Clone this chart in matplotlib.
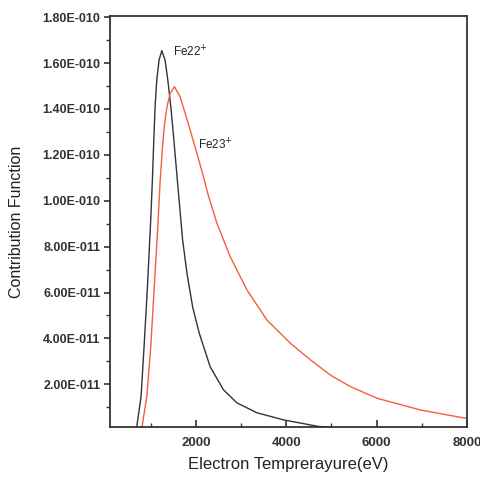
import matplotlib
matplotlib.use("Agg")
import matplotlib.pyplot as plt
from matplotlib.ticker import MultipleLocator, FuncFormatter

plt.rcParams['font.family'] = ['Liberation Sans', 'DejaVu Sans']

# Fe22+ contribution function (temperature eV, value)
fe22_T = [692, 787, 854, 927, 1002, 1038, 1069, 1098, 1135, 1186, 1246, 1319, 1379,
          1446, 1514, 1590, 1707, 1803, 1929, 2073, 2317, 2612, 2909, 3352, 3942,
          4534, 4700, 5200, 6000, 8000]
fe22_C = [0.15e-11, 1.46e-11, 3.64e-11, 6.2e-11, 9.2e-11, 10.9e-11, 12.64e-11, 14.1e-11,
          15.26e-11, 16.13e-11, 16.54e-11, 16.13e-11, 15.26e-11, 14.1e-11, 12.64e-11,
          10.9e-11, 8.29e-11, 6.85e-11, 5.37e-11, 4.24e-11, 2.76e-11, 1.76e-11, 1.19e-11,
          0.76e-11, 0.45e-11, 0.23e-11, 0.17e-11, 0.08e-11, 0.03e-11, 0.005e-11]

# Fe23+ contribution function
fe23_T = [809, 914, 1002, 1076, 1158, 1208, 1260, 1304, 1357, 1430, 1526, 1652, 1763,
          1874, 2022, 2168, 2266, 2466, 2760, 3131, 3574, 4091, 4534, 4977, 5421,
          6013, 6973, 7970]
fe23_C = [0.15e-11, 1.46e-11, 3.64e-11, 6.11e-11, 8.87e-11, 10.8e-11, 12.3e-11, 13.3e-11,
          14.05e-11, 14.68e-11, 14.97e-11, 14.53e-11, 13.81e-11, 13.08e-11, 12.07e-11,
          11.05e-11, 10.3e-11, 9.02e-11, 7.56e-11, 6.11e-11, 4.8e-11, 3.79e-11, 3.07e-11,
          2.4e-11, 1.9e-11, 1.39e-11, 0.88e-11, 0.52e-11]

x_ticks = [2000, 4000, 6000, 8000]
y_ticks = [2e-11, 4e-11, 6e-11, 8e-11, 1e-10, 1.2e-10, 1.4e-10, 1.6e-10, 1.8e-10]

fig = plt.figure(figsize=(4.81, 4.78), dpi=100)
ax = fig.add_axes([110/481, 1 - 427/478, (467 - 110)/481, (427 - 16)/478])

ax.plot(fe22_T, fe22_C, color='#333333', lw=1.0, solid_joinstyle='round')
ax.plot(fe23_T, fe23_C, color='#f2603e', lw=1.0, solid_joinstyle='round')

ax.set_xlim(100, 8000)
ax.set_ylim(1.4e-12, 1.805e-10)

ax.set_xticks(x_ticks)
ax.xaxis.set_minor_locator(MultipleLocator(1000))
ax.set_yticks(y_ticks)
ax.yaxis.set_minor_locator(MultipleLocator(1e-11))

def sci(v, pos):
    s = "%.2E" % v
    mant, exp = s.split("E")
    e = int(exp)
    sign = "-" if e < 0 else "+"
    return "%sE%s%03d" % (mant, sign, abs(e))

ax.yaxis.set_major_formatter(FuncFormatter(sci))

for sp in ax.spines.values():
    sp.set_color('#333333')
    sp.set_linewidth(1.3)

ax.tick_params(axis='x', which='major', direction='in', length=5, width=1.2,
               color='#333333', labelsize=9.5, pad=7, labelcolor='#333333')
ax.tick_params(axis='x', which='minor', direction='in', length=3, width=1.0, color='#333333')
ax.tick_params(axis='y', which='major', direction='out', length=4, width=1.2,
               color='#333333', labelsize=9, pad=3, labelcolor='#333333')
ax.tick_params(axis='y', which='minor', direction='out', length=3, width=1.0, color='#333333')
for lab in ax.get_xticklabels() + ax.get_yticklabels():
    lab.set_fontweight('bold')

ax.set_xlabel('Electron Temprerayure(eV)', fontsize=12, color='#222222')
ax.set_ylabel('Contribution Function', fontsize=11.5, color='#222222')
ax.xaxis.set_label_coords(0.5, -0.073)
ax.yaxis.set_label_coords(-0.241, 0.5)

ax.text(1490, 1.648e-10, r'Fe22$^{+}$', fontsize=8.5, color='#222222', va='center', ha='left')
ax.text(2044, 1.243e-10, r'Fe23$^{+}$', fontsize=8.5, color='#222222', va='center', ha='left')

fig.savefig('out.png', dpi=100)
